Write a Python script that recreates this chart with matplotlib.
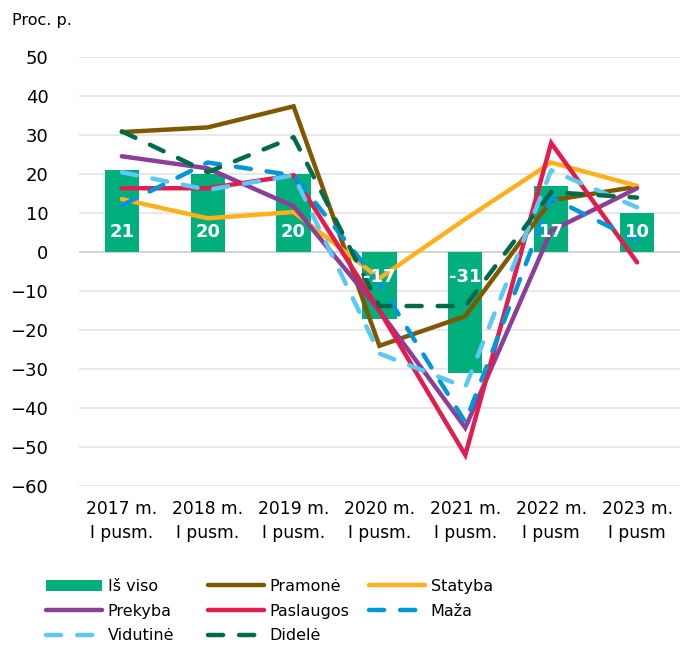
import matplotlib
matplotlib.use("Agg")
import matplotlib.pyplot as plt
import numpy as np

# categories
years = ["2017 m.\nI pusm.", "2018 m.\nI pusm.", "2019 m.\nI pusm.", "2020 m.\nI pusm.",
         "2021 m.\nI pusm.", "2022 m.\nI pusm", "2023 m.\nI pusm"]

# series values (proc. p.)
is_viso = [21, 20, 20, -17, -31, 17, 10]
pramone = [30.8, 32, 37.4, -24, -16.4, 13.3, 16.8]
statyba = [13.6, 8.7, 10.3, -6.7, 8.5, 23, 17]
prekyba = [24.6, 21.5, 11.8, -15, -45, 5.5, 16.4]
paslaugos = [16.4, 16.4, 19.7, -15, -52, 28, -2.6]
maza = [12, 23, 19.7, -8, -43.6, 14, 3]
vidutine = [20.5, 16, 19.7, -26, -34.6, 21, 11.5]
didele = [31, 20.5, 29.5, -13.8, -13.8, 15.4, 14]

plt.rcParams["font.family"] = ["DejaVu Sans"]

fig = plt.figure(figsize=(6.8, 6.5), dpi=100)
ax = fig.add_axes([0.116, 0.252, 0.884, 0.66])

x = np.arange(len(years))

bars = ax.bar(x, is_viso, width=0.4, color="#00AF7B", label="Iš viso", zorder=2)
for xi, v in zip(x, is_viso):
    off = 14.5 if v > 0 else -17.5
    ax.annotate(str(v), (xi, 0), xytext=(0, off), textcoords="offset points",
                ha="center", va="center", color="white", fontsize=13, fontweight="bold", zorder=6)

lw = 3.2
solid = dict(lw=lw, solid_capstyle="round", solid_joinstyle="miter", zorder=3)
dashed = dict(lw=lw, dashes=(3.4, 3.6), dash_capstyle="round", zorder=4)

l_pr, = ax.plot(x, pramone, color="#7F5800", label="Pramonė", **solid)
l_st, = ax.plot(x, statyba, color="#FFB01C", label="Statyba", **solid)
l_pk, = ax.plot(x, prekyba, color="#8B3F96", label="Prekyba", **solid)
l_ps, = ax.plot(x, paslaugos, color="#E31C4D", label="Paslaugos", **solid)
l_ma, = ax.plot(x, maza, color="#0097D8", label="Maža", **dashed)
l_vi, = ax.plot(x, vidutine, color="#5CC9F5", label="Vidutinė", **dashed)
l_di, = ax.plot(x, didele, color="#006B4B", label="Didelė", **dashed)

ax.set_xlim(-0.5, len(years) - 0.5)
ax.set_ylim(-60, 50)
ax.set_yticks(np.arange(-60, 51, 10))
ax.set_yticklabels([str(t).replace("-", "\u2212") for t in range(-60, 51, 10)], fontsize=13)
ax.set_xticks(x)
ax.set_xticklabels(years, fontsize=12.3, linespacing=1.42)
ax.tick_params(length=0, pad=10)
ax.tick_params(axis="y", pad=22)
for y in np.arange(-60, 51, 10):
    ax.axhline(y, color="#E6E6E6" if y != 0 else "#D0D0D0", lw=1.3, zorder=0)
for s in ax.spines.values():
    s.set_visible(False)

fig.text(0.018, 0.968, "Proc. p.", fontsize=11.5, ha="left", va="center")

# legend: three columns placed separately
columns = [[bars, l_pk, l_vi], [l_pr, l_ps, l_di], [l_st, l_ma]]
col_x = [0.056, 0.294, 0.531]
for hs, cx in zip(columns, col_x):
    leg = fig.legend(hs, [h.get_label() for h in hs], loc="upper left",
                     bbox_to_anchor=(cx, 0.122), frameon=False, fontsize=11.5,
                     handlelength=3.5, handletextpad=0.35,
                     labelspacing=0.62, borderpad=0)

fig.savefig("out.png", dpi=100)
